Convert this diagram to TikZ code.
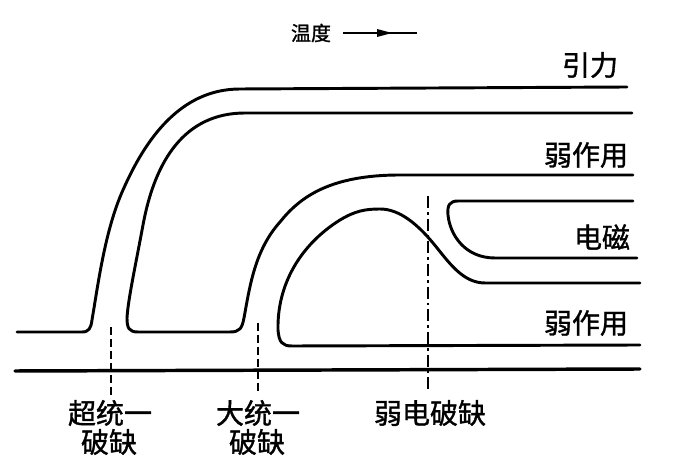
\documentclass[tikz,border=0pt]{standalone}
\usepackage{fontspec}
\newfontfamily\cjk[FakeBold=1.2]{Noto Sans CJK SC}
\begin{document}
\begin{tikzpicture}[x=0.75pt,y=-0.75pt,
  curve/.style={line width=2.2pt,line cap=round,line join=round},
  guide/.style={line width=1.8pt,dash pattern=on 6pt off 3pt},
  guidedot/.style={line width=1.8pt,dash pattern=on 9pt off 3pt on 2pt off 3pt},
  lab/.style={inner sep=0pt,font=\cjk\fontsize{21}{23}\selectfont},
  toplab/.style={inner sep=0pt,font=\cjk\fontsize{15}{17}\selectfont}]
\useasboundingbox (0,0) rectangle (675,473);
% top label
\node[toplab] (temp) at (311,33) {温度};
\coordinate (ta) at (343,33);
\coordinate (tb) at (417,33);
\draw[line width=1.4pt] (ta) -- (tb);
\fill (377,29) -- (392,33) -- (377,37) -- cycle;
% line 1 (gravity upper)
\draw[curve] (17,332) -- (82,332) .. controls (89,332) and (91,328) .. (92,320)
  .. controls (98,285) and (105,230) .. (123,190)
  .. controls (145,140) and (180,89) .. (240,89) -- (627,87);
% line 2
\draw[curve] (632,113) -- (245,113) .. controls (185,113) and (155,160) .. (143,225)
  .. controls (135,268) and (128,300) .. (127,318)
  .. controls (127,328) and (129,332) .. (138,332) -- (230,332)
  .. controls (240,332) and (242,328) .. (244,318)
  .. controls (250,285) and (255,250) .. (280,222)
  .. controls (300,197) and (330,175) .. (400,175) -- (633,175);
% dome line
\draw[curve] (640,345) -- (292,346) .. controls (282,346) and (279,342) .. (278,330)
  .. controls (277,285) and (300,245) .. (340,220)
  .. controls (355,211) and (365,209) .. (380,209)
  .. controls (400,209) and (418,225) .. (433,243)
  .. controls (448,261) and (462,283) .. (485,283) -- (640,283);
% electromagnetic loop
\draw[curve] (633,201) -- (458,201) .. controls (450,201) and (447,205) .. (448,215)
  .. controls (450,235) and (465,258) .. (495,258) -- (637,258);
% bottom line
\draw[curve,line width=2.6pt] (15,371) -- (640,369);
% guide lines
\coordinate (g1a) at (111,327); \coordinate (g1b) at (111,397);
\coordinate (g2a) at (258,323); \coordinate (g2b) at (258,393);
\coordinate (g3a) at (428,196); \coordinate (g3b) at (428,392);
\draw[guide] (g1a) -- (g1b);
\draw[guide] (g2a) -- (g2b);
\draw[guidedot] (g3a) -- (g3b);
% right labels
\node[lab] (grav) at (590,65) {引力};
\node[lab] (strong) at (586,155) {弱作用};
\node[lab] (em) at (602,237) {电磁};
\node[lab] (weak) at (586,323) {弱作用};
% bottom labels
\node[lab] (sua) at (110,413) {超统一};
\node[lab] (sub) at (109,442) {破缺};
\node[lab] (gua) at (258,413) {大统一};
\node[lab] (gub) at (257,442) {破缺};
\node[lab] (ew) at (430,413) {弱电破缺};
\end{tikzpicture}
\end{document}
